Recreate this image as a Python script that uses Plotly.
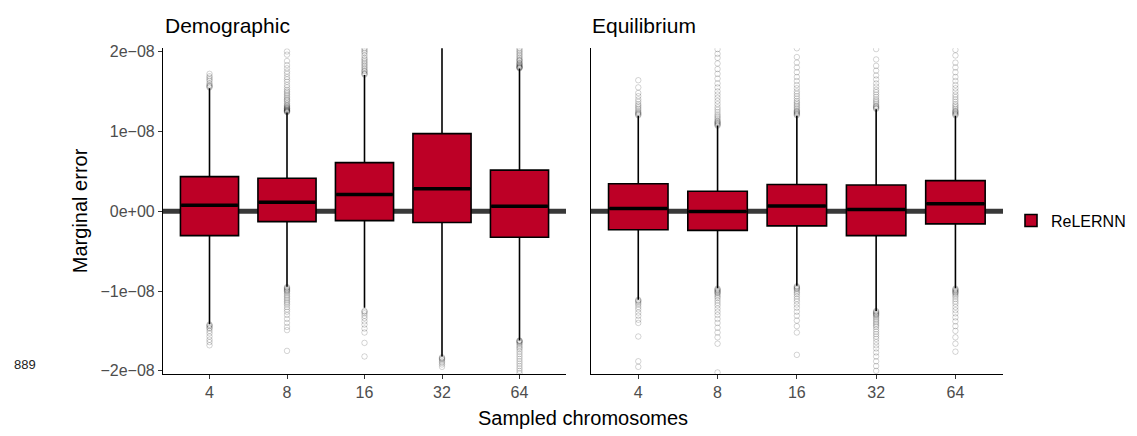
import plotly.graph_objects as go

FONT = "Liberation Sans, Arial, Helvetica, sans-serif"

categories = ["4", "8", "16", "32", "64"]
panels = ["Demographic", "Equilibrium"]
series_name = "ReLERNN"

# values in units of 1e-08
demo_q1 = [-0.306, -0.131, -0.119, -0.143, -0.327]
demo_median = [0.073, 0.110, 0.208, 0.282, 0.061]
demo_q3 = [0.432, 0.412, 0.608, 0.971, 0.514]
demo_lowerfence = [-1.416, -0.946, -1.21, -1.82, -1.62]
demo_upperfence = [1.54, 1.236, 1.705, 2.40, 1.787]

equi_q1 = [-0.233, -0.241, -0.184, -0.306, -0.159]
equi_median = [0.033, -0.004, 0.065, 0.021, 0.094]
equi_q3 = [0.343, 0.249, 0.334, 0.327, 0.383]
equi_lowerfence = [-1.11, -0.967, -0.934, -1.252, -0.967]
equi_upperfence = [1.196, 1.073, 1.196, 1.277, 1.196]

demo_outliers = [
    [1.55, 1.56, 1.57, 1.58, 1.60, 1.63, 1.65, 1.67, 1.69, 1.72,
     -1.42, -1.43, -1.44, -1.46, -1.47, -1.50, -1.53, -1.57, -1.61, -1.64, -1.68],
    [1.24, 1.245, 1.25, 1.255, 1.26, 1.265, 1.27, 1.28, 1.285, 1.29, 1.30, 1.31, 1.32,
     1.33, 1.35, 1.37, 1.39, 1.40, 1.42, 1.44, 1.46, 1.48, 1.50, 1.52, 1.55, 1.58, 1.62,
     1.65, 1.68, 1.72, 1.75, 1.79, 1.83, 1.88, 1.96, 2.00,
     -0.95, -0.96, -0.97, -0.98, -0.99, -1.00, -1.01, -1.03, -1.05, -1.07, -1.09, -1.11,
     -1.13, -1.15, -1.17, -1.20, -1.23, -1.26, -1.30, -1.35, -1.40, -1.45, -1.49, -1.75],
    [1.71, 1.72, 1.73, 1.75, 1.76, 1.78, 1.80, 1.82, 1.84, 1.86, 1.88, 1.90, 1.92, 1.95,
     1.98, 2.00, 2.02, 2.04,
     -1.25, -1.26, -1.28, -1.31, -1.34, -1.38, -1.42, -1.47, -1.52, -1.65, -1.82],
    [-1.83, -1.84, -1.85, -1.86, -1.88, -1.90, -1.92, -1.95],
    [1.79, 1.795, 1.80, 1.805, 1.81, 1.82, 1.83, 1.84, 1.85, 1.86, 1.88, 1.89, 1.90,
     1.92, 1.94, 1.96, 1.98, 2.00, 2.02, 2.04,
     -1.62, -1.625, -1.63, -1.64, -1.65, -1.67, -1.69, -1.71, -1.73, -1.76, -1.79, -1.82,
     -1.85, -1.88, -1.91, -1.94, -1.97, -2.00, -2.03],
]
equi_outliers = [
    [1.20, 1.21, 1.22, 1.23, 1.24, 1.26, 1.28, 1.30, 1.32, 1.34, 1.37, 1.40, 1.44, 1.48,
     1.55, 1.64,
     -1.11, -1.12, -1.13, -1.15, -1.17, -1.20, -1.23, -1.27, -1.31, -1.36, -1.40, -1.57,
     -1.88, -1.95],
    [1.07, 1.08, 1.09, 1.10, 1.11, 1.12, 1.13, 1.15, 1.17, 1.19, 1.21, 1.24, 1.27, 1.30,
     1.34, 1.38, 1.42, 1.46, 1.50, 1.55, 1.60, 1.66, 1.72, 1.78, 1.85, 1.92, 1.97, 2.03,
     -0.97, -0.98, -0.99, -1.00, -1.01, -1.02, -1.03, -1.05, -1.07, -1.09, -1.12, -1.15,
     -1.18, -1.22, -1.26, -1.30, -1.35, -1.40, -1.46, -1.52, -1.58, -1.66, -2.02],
    [1.20, 1.21, 1.22, 1.23, 1.24, 1.25, 1.26, 1.28, 1.30, 1.32, 1.34, 1.36, 1.38, 1.41,
     1.44, 1.47, 1.50, 1.54, 1.58, 1.63, 1.68, 1.74, 1.80, 1.86, 1.93, 2.04,
     -0.94, -0.95, -0.96, -0.97, -0.98, -1.00, -1.02, -1.04, -1.07, -1.10, -1.13, -1.17,
     -1.21, -1.26, -1.31, -1.37, -1.44, -1.52, -1.80],
    [1.28, 1.29, 1.30, 1.31, 1.32, 1.34, 1.36, 1.38, 1.40, 1.43, 1.46, 1.49, 1.52, 1.56,
     1.60, 1.65, 1.70, 1.76, 1.82, 1.90, 2.03,
     -1.25, -1.26, -1.27, -1.28, -1.29, -1.30, -1.31, -1.33, -1.35, -1.37, -1.39, -1.41,
     -1.43, -1.45, -1.48, -1.51, -1.54, -1.57, -1.60, -1.64, -1.68, -1.72, -1.77, -1.82,
     -1.88, -1.94, -2.00],
    [1.20, 1.21, 1.22, 1.23, 1.24, 1.25, 1.26, 1.28, 1.30, 1.32, 1.34, 1.37, 1.40, 1.43,
     1.46, 1.50, 1.54, 1.58, 1.63, 1.68, 1.74, 1.80, 1.86, 1.95, 2.02,
     -0.97, -0.98, -0.99, -1.00, -1.01, -1.02, -1.03, -1.05, -1.07, -1.10, -1.13, -1.16,
     -1.20, -1.24, -1.28, -1.33, -1.38, -1.44, -1.50, -1.58, -1.66, -1.76],
]

y_tickvals = [-2e-08, -1e-08, 0.0, 1e-08, 2e-08]
y_ticktext = ["\u22122e\u221208", "\u22121e\u221208", "0e+00", "1e\u221208", "2e\u221208"]
reference_value = 0.0

UNIT = 1e-08
BOX_W = 0.75
FILL = "#BD0026"

fig = go.Figure()

panel_data = [
    (demo_q1, demo_median, demo_q3, demo_lowerfence, demo_upperfence, demo_outliers, "x", "y"),
    (equi_q1, equi_median, equi_q3, equi_lowerfence, equi_upperfence, equi_outliers, "x2", "y2"),
]

xpos = list(range(len(categories)))

# reference line (behind boxes)
for (_, _, _, _, _, _, xa, ya) in panel_data:
    xr = "x domain" if xa == "x" else "x2 domain"
    fig.add_shape(type="line", xref=xr, yref=ya, x0=0, x1=1,
                  y0=reference_value, y1=reference_value,
                  line=dict(color="#383838", width=5), layer="below")

for pi, (q1, med, q3, lo, hi, outs, xa, ya) in enumerate(panel_data):
    # outliers
    for i, vals in enumerate(outs):
        if not vals:
            continue
        fig.add_trace(go.Scatter(
            x=[xpos[i]] * len(vals), y=[v * UNIT for v in vals],
            mode="markers", xaxis=xa, yaxis=ya, showlegend=False, hoverinfo="skip",
            marker=dict(symbol="circle-open", size=5.5, color="rgba(0,0,0,0.17)",
                        line=dict(width=1, color="rgba(0,0,0,0.17)"))))
    fig.add_trace(go.Box(
        x=xpos, q1=[v * UNIT for v in q1], median=[v * UNIT for v in med],
        q3=[v * UNIT for v in q3], lowerfence=[v * UNIT for v in lo],
        upperfence=[v * UNIT for v in hi],
        width=BOX_W, boxpoints=False, fillcolor=FILL,
        line=dict(color="black", width=1.6), whiskerwidth=0,
        name=series_name, legendgroup="r", showlegend=(pi == 0),
        xaxis=xa, yaxis=ya, hoverinfo="skip"))
    # thick median bars
    for i in range(len(categories)):
        fig.add_trace(go.Scatter(
            x=[xpos[i] - BOX_W / 2 + 0.01, xpos[i] + BOX_W / 2 - 0.01],
            y=[med[i] * UNIT, med[i] * UNIT], mode="lines",
            line=dict(color="black", width=3.5), xaxis=xa, yaxis=ya,
            showlegend=False, hoverinfo="skip"))

ydom = [1 - 377.7 / 436, 1 - 44.3 / 436]
yrange = [-2.04e-08, 2.04e-08]
xrange_ = [-0.6, len(categories) - 0.4]

xaxis_common = dict(range=xrange_, tickvals=xpos, ticktext=categories,
                    showline=True, linecolor="black", linewidth=1.1,
                    ticks="outside", ticklen=4, tickcolor="#333333", tickwidth=1,
                    showgrid=False, zeroline=False,
                    tickfont=dict(family=FONT, size=16, color="#4D4D4D"))
fig.update_layout(
    xaxis=dict(domain=[163 / 1137, 566 / 1137], anchor="y", **xaxis_common),
    xaxis2=dict(domain=[590.7 / 1137, 1003 / 1137], anchor="y2", **xaxis_common),
    yaxis=dict(domain=ydom, range=yrange, anchor="x", tickvals=y_tickvals,
               ticktext=y_ticktext, showline=True, linecolor="black", linewidth=1.1,
               ticks="outside", ticklen=4, tickcolor="#333333", tickwidth=1,
               showgrid=False, zeroline=False,
               tickfont=dict(family=FONT, size=16, color="#4D4D4D")),
    yaxis2=dict(domain=ydom, range=yrange, anchor="x2", showticklabels=False,
                ticks="", showline=True, linecolor="black", linewidth=1.1,
                showgrid=False, zeroline=False),
    width=1137, height=436,
    margin=dict(l=0, r=0, t=0, b=0),
    paper_bgcolor="white", plot_bgcolor="white",
    showlegend=True,
    legend=dict(x=1011 / 1137, y=1 - 220.7 / 436, xanchor="left", yanchor="middle",
                font=dict(family=FONT, size=16, color="black"),
                itemwidth=30, bgcolor="rgba(0,0,0,0)"),
    font=dict(family=FONT),
)

annotations = [
    dict(text=panels[0], x=163 / 1137, y=1 - 21 / 436, xref="paper", yref="paper",
         xanchor="left", yanchor="middle", showarrow=False,
         font=dict(family=FONT, size=21, color="black")),
    dict(text=panels[1], x=590 / 1137, y=1 - 21 / 436, xref="paper", yref="paper",
         xanchor="left", yanchor="middle", showarrow=False,
         font=dict(family=FONT, size=21, color="black")),
    dict(text="Marginal error", x=80 / 1137, y=1 - 211 / 436, xref="paper", yref="paper",
         xanchor="center", yanchor="middle", textangle=-90, showarrow=False,
         font=dict(family=FONT, size=20, color="black")),
    dict(text="Sampled chromosomes", x=583 / 1137, y=1 - 423 / 436, xref="paper", yref="paper",
         xanchor="center", yanchor="middle", showarrow=False,
         font=dict(family=FONT, size=20, color="black")),
    dict(text="889", x=12 / 1137, y=1 - 368 / 436, xref="paper", yref="paper",
         xanchor="left", yanchor="middle", showarrow=False,
         font=dict(family=FONT, size=13, color="#222222")),
]
fig.update_layout(annotations=annotations)

fig.write_html("out.html")
